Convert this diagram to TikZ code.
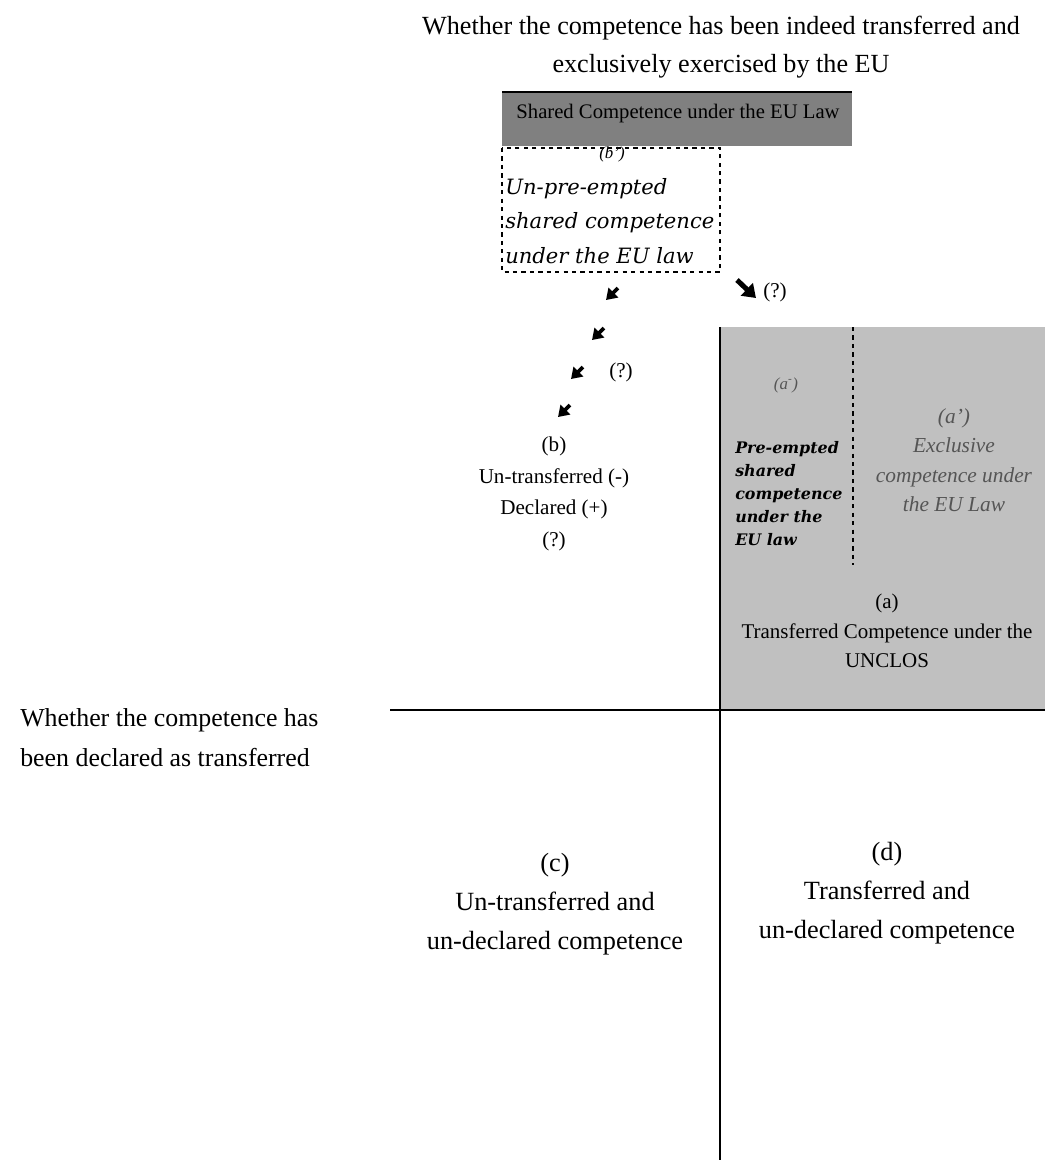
\documentclass[tikz,border=0pt]{standalone}
\usepackage{fontspec}
\setmainfont{Liberation Serif}
\newfontfamily\zierschrift{DejaVu Serif}
\usetikzlibrary{arrows.meta}

\definecolor{dunkelgrau}{HTML}{808080}
\definecolor{hellgrau}{HTML}{C0C0C0}
\definecolor{textgrau}{HTML}{555555}

\begin{document}
\begin{tikzpicture}[x=0.025cm,y=-0.025cm,
		txt/.style={align=center,inner sep=0pt},
		pfeil/.style={line width=2.6pt,-{Triangle[length=7.5pt,width=9.5pt]}}]
		\useasboundingbox (0,0) rectangle (1045,1160);
		
		% Flaechen
		\fill[hellgrau] (720,327) rectangle (1045,710);
		\fill[dunkelgrau] (502,92) rectangle (852,146);
		\draw[line width=1.2pt] (502,92) -- (852,92);
		\draw[dashed,thick] (502,148) rectangle (720,272);
		\draw[dashed,thick] (853,327) -- (853,565);
		
		% Achsen
		\coordinate (L) at (390,710);
		\coordinate (R) at (1045,710);
		\coordinate (O) at (720,327);
		\coordinate (U) at (720,1160);
		\draw[thick] (L) -- (R);
		\draw[thick] (O) -- (U);
		
		% Achsenbeschriftungen
		\node[txt,font=\fontsize{18.6}{27}\selectfont] (titel) at (721,47)
			{Whether the competence has been indeed transferred and\\exclusively exercised by the EU};
		\node[txt,align=left,anchor=west,font=\fontsize{18.4}{28.5}\selectfont] (links) at (20,738)
			{Whether the competence has\\been declared as transferred};
		
		% geteilte Zustaendigkeit
		\node[txt,font=\fontsize{14.7}{16}\selectfont] (geteilt) at (678,114) {Shared Competence under the EU Law};
		\node[txt,font=\fontsize{12}{14}\selectfont\itshape] (bstrich) at (612,154) {(b')};
		\node[txt,align=left,anchor=north west,font=\zierschrift\fontsize{15}{24.5}\selectfont\itshape] (unpre) at (505,178)
			{Un-pre-empted\\shared competence\\under the EU law};
		
		% Pfeile
		\draw[pfeil] (618,288) -- (606,300);
		\draw[pfeil] (604,328) -- (592,340);
		\draw[pfeil] (583,367) -- (571,379);
		\draw[pfeil] (570,405) -- (558,417);
		\draw[line width=3.6pt,-{Triangle[length=9pt,width=12pt]}] (737,280) -- (756,298);
		\node[txt,font=\fontsize{15}{17}\selectfont] (frage1) at (775,292) {(?)};
		\node[txt,font=\fontsize{15}{17}\selectfont] (frage2) at (621,372) {(?)};
		
		% Feld (b)
		\node[txt,font=\fontsize{15}{22.4}\selectfont] (feldb) at (554,494)
			{(b)\\Un-transferred (-)\\Declared (+)\\(?)};
		
		% Feld (a)
		\node[txt,text=textgrau,font=\fontsize{12}{14}\selectfont\itshape] (aminus) at (786,385) {(a\textsuperscript{-})};
		\node[txt,align=left,anchor=north west,font=\zierschrift\fontsize{11.3}{16.4}\selectfont\bfseries\itshape] (preempt) at (735,441)
			{Pre-empted\\shared\\competence\\under the\\EU law};
		\node[txt,text=textgrau,font=\fontsize{15.2}{21}\selectfont\itshape] (astrich) at (954,460)
			{(a')\\Exclusive\\competence under\\the EU Law};
		\node[txt,font=\fontsize{14.9}{21}\selectfont] (felda) at (887,631)
			{(a)\\Transferred Competence under the\\UNCLOS};
		
		% Felder (c) und (d)
		\node[txt,font=\fontsize{18.7}{27.5}\selectfont] (feldc) at (555,904)
			{(c)\\Un-transferred and\\un-declared competence};
		\node[txt,font=\fontsize{18.7}{27.5}\selectfont] (feldd) at (887,893)
			{(d)\\Transferred and\\un-declared competence};
	\end{tikzpicture}
\end{document}
